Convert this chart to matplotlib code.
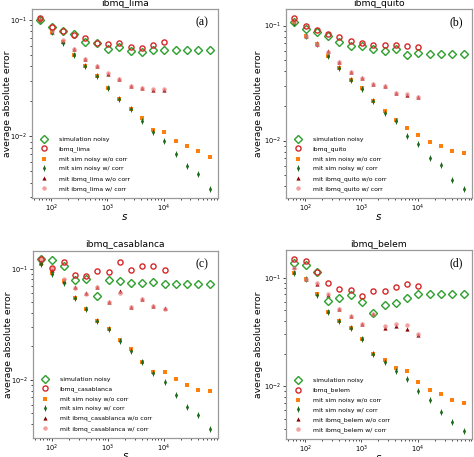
import numpy as np
import matplotlib
matplotlib.use("Agg")
import matplotlib.pyplot as plt
from matplotlib.path import Path

# number of shots
shots = [64, 102, 161, 256, 406, 645, 1024, 1625, 2580, 4096,
         6502, 10321, 16384, 26008, 41285, 65536]
n_dev = 12  # device runs stop earlier

devices = ["ibmq_lima", "ibmq_quito", "ibmq_casablanca", "ibmq_belem"]
tags = ["(a)", "(b)", "(c)", "(d)"]

# (a) ibmq_lima
sim_a = [0.100, 0.0875, 0.080, 0.0757, 0.065, 0.063, 0.0568, 0.0587, 0.0546, 0.0535,
         0.055, 0.055, 0.055, 0.055, 0.055, 0.055]
dev_a = [0.105, 0.0875, 0.081, 0.0746, 0.0703, 0.063, 0.0624, 0.0636, 0.059, 0.058, 0.0615, 0.065]
mitsim_a = [0.098, 0.079, 0.0645, 0.050, 0.040, 0.033, 0.026, 0.021, 0.0171, 0.0145,
            0.0114, 0.0109, 0.0091, 0.0082, 0.0075, 0.0066]
mitsimc_a = [0.100, 0.079, 0.063, 0.0497, 0.040, 0.033, 0.026, 0.021, 0.0171, 0.0136,
             0.0108, 0.0092, 0.0071, 0.0056, 0.0047, 0.0035]
mitdev_a = [0.100, 0.079, 0.0667, 0.0564, 0.0462, 0.040, 0.0347, 0.0312, 0.0271, 0.0259, 0.0249, 0.0253]
mitdevc_a = [0.101, 0.080, 0.0675, 0.057, 0.0465, 0.040, 0.0350, 0.0312, 0.0271, 0.0260, 0.0255, 0.0255]

# (b) ibmq_quito
sim_b = [0.107, 0.094, 0.0875, 0.0807, 0.072, 0.067, 0.066, 0.0627, 0.0606, 0.063,
         0.0558, 0.0578, 0.057, 0.057, 0.057, 0.057]
dev_b = [0.117, 0.0986, 0.0923, 0.085, 0.079, 0.073, 0.0706, 0.0683, 0.0683, 0.0683, 0.067, 0.0656]
mitsim_b = [0.105, 0.0818, 0.0697, 0.0547, 0.0427, 0.0338, 0.0286, 0.0223, 0.0179, 0.0151,
            0.0128, 0.0112, 0.0098, 0.0089, 0.0081, 0.00785]
mitsimc_b = [0.105, 0.0818, 0.0695, 0.054, 0.0427, 0.0338, 0.0282, 0.0219, 0.0173, 0.0147,
             0.011, 0.0094, 0.007, 0.0061, 0.0045, 0.00377]
mitdev_b = [0.108, 0.0818, 0.0697, 0.0597, 0.0486, 0.0397, 0.035, 0.0312, 0.0296, 0.0259, 0.0248, 0.0239]
mitdevc_b = [0.108, 0.0818, 0.0697, 0.0590, 0.0486, 0.0397, 0.0352, 0.0312, 0.0300, 0.0260, 0.0255, 0.0238]

# (c) ibmq_casablanca
sim_c = [0.121, 0.119, 0.106, 0.079, 0.0814, 0.0564, 0.0787, 0.0766, 0.074, 0.074,
         0.076, 0.0726, 0.0726, 0.0726, 0.0726, 0.0726]
dev_c = [0.121, 0.102, 0.115, 0.087, 0.086, 0.096, 0.094, 0.114, 0.0973, 0.106, 0.106, 0.0967]
mitsim_c = [0.110, 0.092, 0.078, 0.0544, 0.0435, 0.0337, 0.0288, 0.023, 0.019, 0.0145,
            0.0117, 0.0117, 0.0102, 0.009, 0.0081, 0.0079]
mitsimc_c = [0.110, 0.090, 0.0735, 0.054, 0.043, 0.0335, 0.0286, 0.0225, 0.0181, 0.0145,
             0.0116, 0.0095, 0.0073, 0.0057, 0.0048, 0.0036]
mitdev_c = [0.115, 0.097, 0.0766, 0.0678, 0.0598, 0.0678, 0.0498, 0.063, 0.045, 0.0533, 0.0466, 0.044]
mitdevc_c = [0.121, 0.102, 0.080, 0.067, 0.0595, 0.0678, 0.0498, 0.061, 0.045, 0.053, 0.0463, 0.0437]

# (d) ibmq_belem
sim_d = [0.136, 0.13, 0.113, 0.061, 0.065, 0.069, 0.060, 0.0468, 0.0562, 0.0582,
         0.0653, 0.0706, 0.070, 0.070, 0.070, 0.070]
dev_d = [0.150, 0.1426, 0.113, 0.0899, 0.0785, 0.0774, 0.0676, 0.0758, 0.076, 0.0813, 0.0879, 0.0837]
mitsim_d = [0.111, 0.098, 0.070, 0.048, 0.0397, 0.0342, 0.0272, 0.020, 0.0175, 0.0147,
            0.0137, 0.0109, 0.0092, 0.0084, 0.0075, 0.0070]
mitsimc_d = [0.111, 0.098, 0.069, 0.048, 0.0397, 0.0342, 0.0272, 0.020, 0.0166, 0.0137,
             0.0117, 0.009, 0.0075, 0.0058, 0.0047, 0.0039]
mitdev_d = [0.126, 0.098, 0.087, 0.069, 0.051, 0.0441, 0.0375, 0.046, 0.0342, 0.0362, 0.034, 0.0297]
mitdevc_d = [0.123, 0.098, 0.090, 0.070, 0.051, 0.0445, 0.0378, 0.046, 0.0356, 0.0377, 0.0365, 0.030]

sims = [sim_a, sim_b, sim_c, sim_d]
devs = [dev_a, dev_b, dev_c, dev_d]
mitsims = [mitsim_a, mitsim_b, mitsim_c, mitsim_d]
mitsimcs = [mitsimc_a, mitsimc_b, mitsimc_c, mitsimc_d]
mitdevs = [mitdev_a, mitdev_b, mitdev_c, mitdev_d]
mitdevcs = [mitdevc_a, mitdevc_b, mitdevc_c, mitdevc_d]

# thin diamond with a small vertical bar (looks like an errorbar point)
bar_diamond = Path(
    [(0, 1), (0.55, 0), (0, -1), (-0.55, 0), (0, 1), (0, 1.5), (0, -1.5)],
    [Path.MOVETO, Path.LINETO, Path.LINETO, Path.LINETO, Path.CLOSEPOLY,
     Path.MOVETO, Path.LINETO])

# panel boxes [left, bottom, width, height] in figure fractions
boxes = [
    [0.067, 0.567, 0.393, 0.413],
    [0.603, 0.567, 0.393, 0.413],
    [0.069, 0.042, 0.391, 0.409],
    [0.603, 0.039, 0.393, 0.414],
]
ylab_x = [-0.107, -0.12, -0.107, -0.12]

fig = plt.figure(figsize=(4.74, 4.57), dpi=100)

for i in range(4):
    ax = fig.add_axes(boxes[i])
    dev = devices[i]
    x = shots
    xd = shots[:n_dev]

    ax.plot(x, sims[i], "D", ms=3.7, mfc="none", mec="#2ca02c", mew=1.0,
            label="simulation noisy", zorder=3)
    ax.plot(xd, devs[i], "o", ms=3.7, mfc="none", mec="#d62728", mew=1.0,
            label=dev, zorder=4)
    ax.plot(x, mitsims[i], "s", ms=2.7, color="#ff7f0e", mew=0,
            label="mit sim noisy w/o corr", zorder=2)
    ax.plot(x, mitsimcs[i], marker=bar_diamond, ls="none", ms=4.3, color="#1e6b1e",
            mew=0.6, label="mit sim noisy w/ corr", zorder=3)
    ax.plot(xd, mitdevs[i], "^", ms=3.0, color="#8b0000", mew=0,
            label="mit " + dev + " w/o corr", zorder=2)
    ax.plot(xd, mitdevcs[i], "o", ms=3.2, color="#f08080", alpha=0.75, mew=0,
            label="mit " + dev + " w/ corr", zorder=3)

    ax.set_xscale("log")
    ax.set_yscale("log")
    ax.set_title(dev, fontsize=6.6, pad=2.5)
    ax.set_xlabel("$s$", fontsize=7.5, labelpad=-1.5)
    ax.set_ylabel("average absolute error", fontsize=6.7)
    ax.yaxis.set_label_coords(ylab_x[i], 0.5)
    ax.tick_params(which="both", labelsize=4.8, pad=1.0, width=0.5)
    ax.tick_params(which="major", length=2.2)
    ax.tick_params(which="minor", length=1.3)
    for sp in ax.spines.values():
        sp.set_color("#9a9a9a")
        sp.set_linewidth(0.9)
    ax.text(0.95, 0.93, tags[i], transform=ax.transAxes, ha="right", va="center",
            fontsize=8.5, family="Liberation Serif")
    ax.legend(loc="lower left", frameon=False, fontsize=4.4, handlelength=2.0,
              handletextpad=1.4, labelspacing=0.7, borderaxespad=0.6)

fig.savefig("out.png", dpi=100)
